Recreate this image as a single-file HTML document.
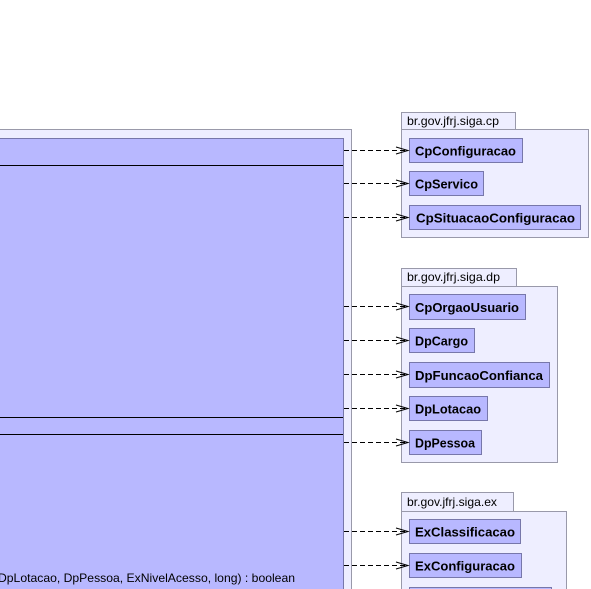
<!DOCTYPE html>
<html><head><meta charset="utf-8"><style>
html,body{margin:0;padding:0;background:#fff;width:591px;height:589px;overflow:hidden}
svg{display:block}
.pk{fill:#eeeeff;stroke:#9999aa;stroke-width:1}
.cl{fill:#b8b8ff;stroke:#7777aa;stroke-width:1}
.t{font-family:"Liberation Sans",sans-serif;font-size:13px;font-weight:bold;fill:#000}
.p{font-family:"Liberation Sans",sans-serif;font-size:12px;fill:#000}
.d{stroke:#000;stroke-width:1;stroke-dasharray:5,3;fill:none}
.a{stroke:#000;stroke-width:1;fill:none}
</style></head><body>
<svg width="591" height="589" viewBox="0 0 591 589" xmlns="http://www.w3.org/2000/svg">
<rect class="pk" x="-5.5" y="129.5" width="357" height="470"/>
<rect class="cl" x="-5.5" y="138.5" width="349" height="460"/>
<line x1="0" y1="165.5" x2="343" y2="165.5" stroke="#000"/>
<line x1="0" y1="417.5" x2="343" y2="417.5" stroke="#000"/>
<line x1="0" y1="434.5" x2="343" y2="434.5" stroke="#000"/>
<text class="p" x="-2" y="582" textLength="297" lengthAdjust="spacingAndGlyphs">DpLotacao, DpPessoa, ExNivelAcesso, long) : boolean</text>

<rect class="pk" x="401.5" y="112.5" width="114" height="17"/>
<text class="p" x="407" y="125" textLength="92" lengthAdjust="spacingAndGlyphs">br.gov.jfrj.siga.cp</text>
<rect class="pk" x="401.5" y="129.5" width="187" height="108"/>
<rect class="cl" x="409.5" y="138.5" width="113" height="24"/>
<text class="t" x="415" y="155.5" textLength="101" lengthAdjust="spacingAndGlyphs">CpConfiguracao</text>
<rect class="cl" x="409.5" y="171.5" width="74" height="24"/>
<text class="t" x="415" y="188.5" textLength="63" lengthAdjust="spacingAndGlyphs">CpServico</text>
<rect class="cl" x="409.5" y="205.5" width="171" height="24"/>
<text class="t" x="416" y="222.5" textLength="159" lengthAdjust="spacingAndGlyphs">CpSituacaoConfiguracao</text>

<rect class="pk" x="401.5" y="268.5" width="115" height="18"/>
<text class="p" x="407" y="281" textLength="93" lengthAdjust="spacingAndGlyphs">br.gov.jfrj.siga.dp</text>
<rect class="pk" x="401.5" y="286.5" width="156" height="176"/>
<rect class="cl" x="409.5" y="294.5" width="116" height="25"/>
<text class="t" x="415" y="312" textLength="104" lengthAdjust="spacingAndGlyphs">CpOrgaoUsuario</text>
<rect class="cl" x="409.5" y="328.5" width="65" height="24"/>
<text class="t" x="415" y="345.5" textLength="53" lengthAdjust="spacingAndGlyphs">DpCargo</text>
<rect class="cl" x="409.5" y="362.5" width="140" height="25"/>
<text class="t" x="415" y="380" textLength="128" lengthAdjust="spacingAndGlyphs">DpFuncaoConfianca</text>
<rect class="cl" x="409.5" y="396.5" width="78" height="24"/>
<text class="t" x="415" y="413.5" textLength="66" lengthAdjust="spacingAndGlyphs">DpLotacao</text>
<rect class="cl" x="409.5" y="430.5" width="72" height="24"/>
<text class="t" x="415" y="447.5" textLength="60" lengthAdjust="spacingAndGlyphs">DpPessoa</text>

<rect class="pk" x="401.5" y="492.5" width="112" height="19"/>
<text class="p" x="407" y="506" textLength="90" lengthAdjust="spacingAndGlyphs">br.gov.jfrj.siga.ex</text>
<rect class="pk" x="401.5" y="511.5" width="165" height="90"/>
<rect class="cl" x="409.5" y="519.5" width="111" height="24"/>
<text class="t" x="415" y="536.5" textLength="100" lengthAdjust="spacingAndGlyphs">ExClassificacao</text>
<rect class="cl" x="409.5" y="553.5" width="112" height="24"/>
<text class="t" x="415" y="570.5" textLength="100" lengthAdjust="spacingAndGlyphs">ExConfiguracao</text>
<rect class="cl" x="409.5" y="587.5" width="142" height="24"/>

<g>
<line class="d" x1="344" y1="150.5" x2="407" y2="150.5"/><polyline class="a" points="396,147 408,150.5 396,154"/>
<line class="d" x1="344" y1="183.5" x2="407" y2="183.5"/><polyline class="a" points="396,180 408,183.5 396,187"/>
<line class="d" x1="344" y1="217.5" x2="407" y2="217.5"/><polyline class="a" points="396,214 408,217.5 396,221"/>
<line class="d" x1="344" y1="306.5" x2="407" y2="306.5"/><polyline class="a" points="396,303 408,306.5 396,310"/>
<line class="d" x1="344" y1="340.5" x2="407" y2="340.5"/><polyline class="a" points="396,337 408,340.5 396,344"/>
<line class="d" x1="344" y1="374.5" x2="407" y2="374.5"/><polyline class="a" points="396,371 408,374.5 396,378"/>
<line class="d" x1="344" y1="408.5" x2="407" y2="408.5"/><polyline class="a" points="396,405 408,408.5 396,412"/>
<line class="d" x1="344" y1="442.5" x2="407" y2="442.5"/><polyline class="a" points="396,439 408,442.5 396,446"/>
<line class="d" x1="344" y1="531.5" x2="407" y2="531.5"/><polyline class="a" points="396,528 408,531.5 396,535"/>
<line class="d" x1="344" y1="565.5" x2="407" y2="565.5"/><polyline class="a" points="396,562 408,565.5 396,569"/>
</g>
</svg>
</body></html>
